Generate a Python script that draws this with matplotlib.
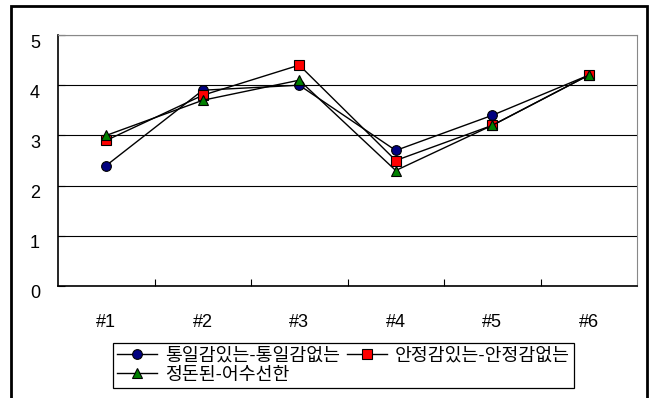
import matplotlib
matplotlib.use("Agg")
import matplotlib.pyplot as plt
import matplotlib.transforms as mtransforms
from matplotlib.patches import Rectangle

plt.rcParams['font.family'] = ['Liberation Sans', 'Noto Sans CJK KR']
plt.rcParams['xtick.labelsize'] = 13
plt.rcParams['ytick.labelsize'] = 13

# data
categories = ['#1', '#2', '#3', '#4', '#5', '#6']
s_unity = [2.4, 3.9, 4.0, 2.7, 3.4, 4.2]
s_stable = [2.9, 3.8, 4.4, 2.5, 3.2, 4.2]
s_tidy = [3.0, 3.7, 4.1, 2.3, 3.2, 4.2]
names = ['통일감있는-통일감없는', '안정감있는-안정감없는', '정돈된-어수선한']

fig = plt.figure(figsize=(6.53, 3.98), dpi=100)
W, H = 653, 398
ax = fig.add_axes([58 / W, 1 - 286 / H, (637 - 58) / W, (286 - 35) / H])

x = list(range(len(categories)))
l1, = ax.plot(x, s_unity, '-o', color='black', lw=1, mfc='#000080', mec='black',
              mew=0.8, ms=7)
l2, = ax.plot(x, s_stable, '-s', color='black', lw=1, mfc='#FF0000', mec='black',
              mew=0.8, ms=7)
l3, = ax.plot(x, s_tidy, '-^', color='black', lw=1, mfc='#008000', mec='black',
              mew=0.8, ms=7.5)

ax.set_xlim(-0.5, 5.5)
ax.set_ylim(0, 5)
ax.set_yticks([0, 1, 2, 3, 4, 5])
ax.set_xticks(x)
ax.set_xticklabels(categories)
ax.set_xticks([0.5, 1.5, 2.5, 3.5, 4.5], minor=True)
ax.tick_params(axis='x', which='major', length=0, pad=20)
ax.tick_params(axis='x', which='minor', direction='in', length=5, width=0.8)
ax.tick_params(axis='y', direction='in', length=5, width=0.8, pad=13)

# push y labels slightly down
offset = mtransforms.ScaledTranslation(0, -6 / 100, fig.dpi_scale_trans)
for lab in ax.get_yticklabels():
    lab.set_transform(lab.get_transform() + offset)

ax.grid(axis='y', color='black', lw=0.8)
ax.set_axisbelow(True)
for side in ['top', 'right']:
    ax.spines[side].set_color('#888888')
for side in ['left', 'bottom']:
    ax.spines[side].set_color('black')
    ax.spines[side].set_linewidth(1.2)

leg = fig.legend([l1, l3, l2], [names[0], names[2], names[1]], ncol=2,
                 loc='upper left', bbox_to_anchor=(113 / W, 1 - 343 / H),
                 prop={'size': 13.2}, frameon=True, fancybox=False, framealpha=1,
                 edgecolor='black', borderpad=0.22, handlelength=2.2,
                 handletextpad=0.4, columnspacing=0.4, labelspacing=0.15,
                 borderaxespad=0)
leg.get_frame().set_linewidth(0.9)

# outer chart frame
fig.patches.append(Rectangle((11 / W, -0.3), (647 - 11) / W, 1.3 - 6 / H,
                             transform=fig.transFigure, fill=False,
                             edgecolor='black', lw=2))

fig.savefig('out.png', dpi=100)
